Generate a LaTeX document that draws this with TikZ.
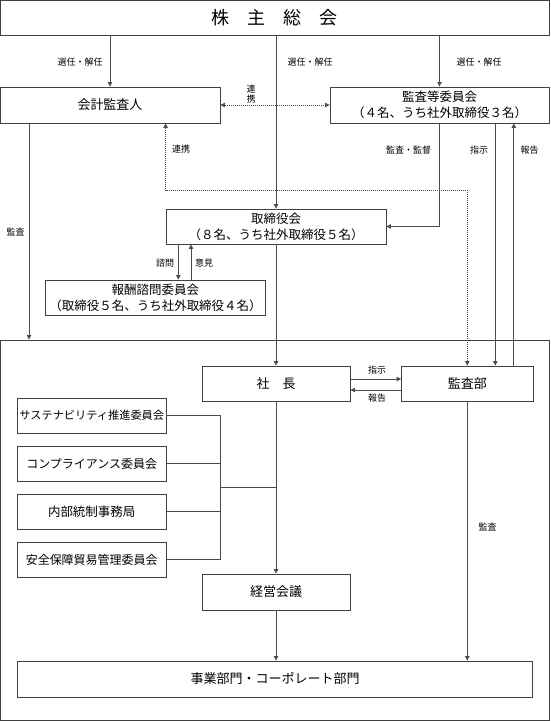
\documentclass[tikz,border=0pt]{standalone}
\usepackage{fontspec}
\setmainfont{Noto Sans CJK JP}
\usetikzlibrary{
    arrows.meta,
    calc,
    positioning
}

\begin{document}
\begin{tikzpicture}[
    x=1pt,
    y=-1pt,
    box/.style = {
        draw=black!75,
        line width=0.9pt,
        rectangle,
        fill=white,
        inner sep=0pt,
        align=center,
        font=\fontsize{12.5}{16}\selectfont
    },
    lbl/.style = {
        inner sep=0pt,
        align=center,
        font=\fontsize{9}{9.5}\selectfont
    },
    wire/.style = {
        draw=black!70,
        line width=0.8pt
    },
    link/.style = {
        wire,
        -{Triangle[length=4.5pt,width=4.5pt]}
    },
    dotlink/.style = {
        wire,
        dash pattern=on 1pt off 1pt,
        {Triangle[length=4.5pt,width=4.5pt]}-{Triangle[length=4.5pt,width=4.5pt]}
    },
]
    \useasboundingbox (0,0) rectangle (550,721);

    % Company frame
    \node [draw=black!75, line width=0.9pt, minimum width=549pt, minimum height=380pt]
        (company) at (274.5,530) {};

    % Top
    \node [box, minimum width=549pt, minimum height=35pt,
        font=\fontsize{18}{20}\selectfont] (meeting) at (274.5,17.5) {株　主　総　会};

    \node [box, minimum width=220pt, minimum height=36pt,
        font=\fontsize{13}{16}\selectfont] (auditor) at (110,105) {会計監査人};
    \node [box, minimum width=219pt, minimum height=36pt] (acm) at (439.5,105)
        {監査等委員会\\（４名、うち社外取締役３名）};

    \node [box, minimum width=220pt, minimum height=35pt] (board) at (276,226.5)
        {取締役会\\（８名、うち社外取締役５名）};
    \node [box, minimum width=220pt, minimum height=35pt] (comp) at (155.5,297.5)
        {報酬諮問委員会\\（取締役５名、うち社外取締役４名）};

    % Inside the company
    \node [box, minimum width=148pt, minimum height=35pt,
        font=\fontsize{13}{16}\selectfont] (president) at (276,383.5) {社　長};
    \node [box, minimum width=131.5pt, minimum height=35pt,
        font=\fontsize{13}{16}\selectfont] (audit_dept) at (467.25,383.5) {監査部};

    \node [box, minimum width=148.5pt, minimum height=35pt,
        font=\fontsize{11.2}{14}\selectfont] (sustain) at (91.75,415.5) {サステナビリティ推進委員会};
    \node [box, minimum width=148.5pt, minimum height=35pt,
        font=\fontsize{12}{14}\selectfont] (compliance) at (91.75,463.5) {コンプライアンス委員会};
    \node [box, minimum width=148.5pt, minimum height=35pt,
        font=\fontsize{12.5}{14}\selectfont] (int_ctrl) at (91.75,511.5) {内部統制事務局};
    \node [box, minimum width=148.5pt, minimum height=35pt,
        font=\fontsize{12}{14}\selectfont] (trade) at (91.75,559.5) {安全保障貿易管理委員会};

    \node [box, minimum width=148pt, minimum height=36pt,
        font=\fontsize{13}{16}\selectfont] (mgmt) at (276,592) {経営会議};
    \node [box, minimum width=515pt, minimum height=36pt,
        font=\fontsize{13}{16}\selectfont] (divisions) at (275,679) {事業部門・コーポレート部門};

    \coordinate (aud_x) at (29,0);
    \coordinate (inst_x) at (495.3,0);
    \coordinate (rep_x) at (513.8,0);
    \coordinate (ask_x) at (178.3,0);
    \coordinate (opin_x) at (191,0);
    \coordinate (coop_l) at (165.6,190);
    \coordinate (coop_r) at (467.25,190);
    \coordinate (bus) at (220,487);

    % Connectors
    \draw [link] (meeting.south -| auditor.north) -- (auditor.north);
    \draw [link] (meeting.south -| board.north) -- (board.north);
    \draw [link] (meeting.south -| acm.north) -- (acm.north);

    \draw [dotlink] (auditor.east) -- (acm.west);
    \draw [dotlink] (auditor.south -| coop_l) -- (coop_l) -- (coop_r) -- (audit_dept.north);

    \draw [link] (auditor.south -| aud_x) -- (company.north -| aud_x);
    \draw [link] (acm.south) |- (board.east);
    \draw [link] (acm.south -| inst_x) -- (audit_dept.north -| inst_x);
    \draw [link] (audit_dept.north -| rep_x) -- (acm.south -| rep_x);

    \draw [link] (board.south -| ask_x) -- (comp.north -| ask_x);
    \draw [link] (comp.north -| opin_x) -- (board.south -| opin_x);
    \draw [link] (board.south) -- (president.north);

    \draw [link] ($(president.east)+(0,-4.5)$) -- ($(audit_dept.west)+(0,-4.5)$);
    \draw [link] ($(audit_dept.west)+(0,6.5)$) -- ($(president.east)+(0,6.5)$);

    \draw [wire] (sustain.east) -- (sustain.east -| bus) -- (trade.east -| bus) -- (trade.east);
    \draw [wire] (compliance.east) -- (compliance.east -| bus);
    \draw [wire] (int_ctrl.east) -- (int_ctrl.east -| bus);
    \draw [wire] (bus) -- (bus -| president.south);

    \draw [link] (president.south) -- (mgmt.north);
    \draw [link] (mgmt.south) -- (mgmt.south |- divisions.north);
    \draw [link] (audit_dept.south) -- (audit_dept.south |- divisions.north);

    % Labels
    \node [lbl] (elect_aud) at (80,62) {選任・解任};
    \node [lbl] (elect_board) at (310,62) {選任・解任};
    \node [lbl] (elect_acm) at (479,62) {選任・解任};
    \node [lbl] (coop_top) at (251,94) {連\\携};
    \node [lbl] (coop_side) at (181,149) {連携};
    \node [lbl] (audit_ext) at (15.5,232) {監査};
    \node [lbl] (supervise) at (408.5,150) {監査・監督};
    \node [lbl] (inst_acm) at (479,150) {指示};
    \node [lbl] (rep_acm) at (529.5,150) {報告};
    \node [lbl] (consult) at (165,263) {諮問};
    \node [lbl] (opinion) at (204,263) {意見};
    \node [lbl] (inst_pres) at (377,370) {指示};
    \node [lbl] (rep_pres) at (377,398) {報告};
    \node [lbl] (audit_int) at (487.5,527) {監査};
\end{tikzpicture}
\end{document}
